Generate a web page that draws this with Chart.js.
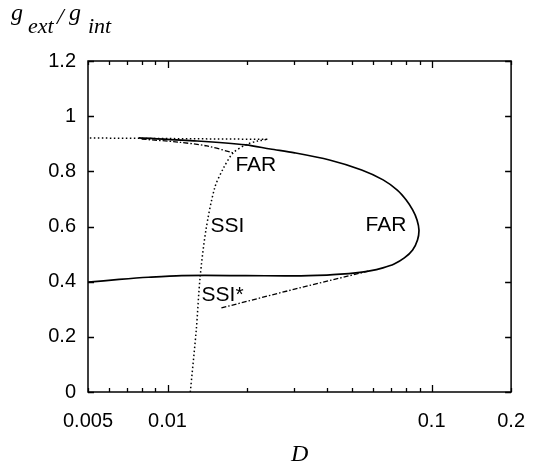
<!DOCTYPE html>
<html>
<head>
<meta charset="utf-8">
<script src="https://cdn.jsdelivr.net/npm/chart.js@4/dist/chart.umd.min.js"></script>
<style>
  html,body{margin:0;padding:0;background:#fff;}
  #wrap{width:542px;height:463px;position:relative;}
</style>
</head>
<body>
<div id="wrap"><canvas id="c" width="542" height="463"></canvas></div>
<script>
// ---- data ----
// FAR boundary (solid), traced from upper-left, round the nose at D~0.09, back to the left
const farD = [0.00778, 0.01295, 0.0198, 0.0245, 0.03031, 0.04105, 0.05435, 0.06553, 0.07413, 0.08014, 0.08477, 0.08807, 0.08957, 0.08844, 0.08477, 0.07885, 0.07214, 0.06541, 0.05833, 0.05155, 0.04519, 0.04012, 0.03031, 0.0198, 0.01131, 0.00847, 0.00656, 0.005];
const farG = [0.921, 0.910, 0.896, 0.881, 0.867, 0.841, 0.805, 0.769, 0.732, 0.696, 0.660, 0.624, 0.587, 0.551, 0.515, 0.486, 0.464, 0.450, 0.439, 0.432, 0.427, 0.424, 0.421, 0.422, 0.422, 0.416, 0.408, 0.398];
// SSI boundary (dotted), rising branch
const ssiD = [0.01220, 0.01285, 0.01329, 0.01398, 0.01509, 0.0163, 0.01774, 0.0198, 0.02194, 0.02388];
const ssiG = [0.000, 0.225, 0.417, 0.587, 0.740, 0.812, 0.867, 0.896, 0.910, 0.916];
// SSI boundary (dotted), upper flat branch
const ssiTopD = [0.02388, 0.005];
const ssiTopG = [0.916, 0.921];
// SSI* boundary (dash-dot), lower branch
const ssiStarD = [0.0160, 0.0303, 0.0575];
const ssiStarG = [0.305, 0.373, 0.438];
// SSI* boundary (dash-dot), upper branch
const ssiStarTopD = [0.00798, 0.01093, 0.0141, 0.01774];
const ssiStarTopG = [0.917, 0.906, 0.892, 0.867];
// axis ticks
const xTickValues = [0.005, 0.006, 0.007, 0.008, 0.009, 0.01, 0.02, 0.03, 0.04, 0.05, 0.06, 0.07, 0.08, 0.09, 0.1, 0.2];
const xTickLabels = [0.005, 0.01, 0.1, 0.2];
const xMajorTicks = [0.01, 0.1];
const yTickValues = [0, 0.2, 0.4, 0.6, 0.8, 1, 1.2];
// region labels (text, D, g)
const regionText = ['FAR', 'SSI', 'FAR', 'SSI*'];
const regionD = [0.0216, 0.01687, 0.0672, 0.01616];
const regionG = [0.823, 0.602, 0.606, 0.352];

const pts = (xs, ys) => xs.map((x, i) => ({x, y: ys[i]}));
const SANS = '"Liberation Sans", Arial, Helvetica, sans-serif';
const SERIF = '"Liberation Serif", "Times New Roman", serif';

const decor = {
  id: 'decor',
  afterDatasetsDraw(chart) {
    const ctx = chart.ctx, a = chart.chartArea;
    const xs = chart.scales.x, ys = chart.scales.y;
    ctx.save();
    ctx.strokeStyle = '#000';
    ctx.lineWidth = 1.3;
    // inward ticks
    ctx.beginPath();
    xTickValues.forEach(v => {
      const px = Math.round(xs.getPixelForValue(v)) + 0.5;
      const len = xMajorTicks.includes(v) ? 7 : 4;
      ctx.moveTo(px, a.bottom); ctx.lineTo(px, a.bottom - len);
      ctx.moveTo(px, a.top); ctx.lineTo(px, a.top + len);
    });
    yTickValues.forEach(v => {
      const py = Math.round(ys.getPixelForValue(v)) + 0.5;
      ctx.moveTo(a.left, py); ctx.lineTo(a.left + 6, py);
      ctx.moveTo(a.right, py); ctx.lineTo(a.right - 6, py);
    });
    ctx.stroke();
    // frame
    ctx.lineWidth = 1.5;
    ctx.strokeRect(a.left, a.top, a.right - a.left, a.bottom - a.top);
    // region labels
    ctx.fillStyle = '#000';
    ctx.font = '21px ' + SANS;
    ctx.textAlign = 'center';
    ctx.textBaseline = 'middle';
    regionText.forEach((t, i) => {
      ctx.fillText(t, xs.getPixelForValue(regionD[i]), ys.getPixelForValue(regionG[i]));
    });
    // x title
    ctx.font = 'italic 24px ' + SERIF;
    ctx.textAlign = 'center';
    ctx.textBaseline = 'alphabetic';
    ctx.fillText('D', (a.left + a.right) / 2, 461);
    // y title g_ext / g_int
    ctx.textAlign = 'left';
    ctx.font = 'italic 24px ' + SERIF;
    ctx.fillText('g', 11, 20);
    ctx.font = 'italic 22px ' + SERIF;
    ctx.fillText('ext', 28, 33);
    ctx.font = 'italic 24px ' + SERIF;
    ctx.fillText('/', 57, 24);
    ctx.fillText('g', 69, 20);
    ctx.font = 'italic 22px ' + SERIF;
    ctx.fillText('int', 88, 33);
    ctx.restore();
  }
};

new Chart(document.getElementById('c'), {
  type: 'scatter',
  data: {
    datasets: [
      {data: pts(farD, farG), showLine: true, borderColor: '#000', borderWidth: 1.7, pointRadius: 0, tension: 0.3, fill: false},
      {data: pts(ssiD, ssiG), showLine: true, borderColor: '#000', borderWidth: 1.5, borderDash: [1.5, 2.5], pointRadius: 0, tension: 0.3, fill: false},
      {data: pts(ssiTopD, ssiTopG), showLine: true, borderColor: '#000', borderWidth: 1.5, borderDash: [1.5, 2.5], pointRadius: 0, tension: 0, fill: false},
      {data: pts(ssiStarD, ssiStarG), showLine: true, borderColor: '#000', borderWidth: 1.3, borderDash: [5, 2, 1.5, 2], pointRadius: 0, tension: 0, fill: false},
      {data: pts(ssiStarTopD, ssiStarTopG), showLine: true, borderColor: '#000', borderWidth: 1.3, borderDash: [5, 2, 1.5, 2], pointRadius: 0, tension: 0.3, fill: false}
    ]
  },
  options: {
    responsive: false,
    animation: false,
    events: [],
    layout: {padding: {top: 61, right: 20, left: 0, bottom: 0}},
    plugins: {legend: {display: false}, tooltip: {enabled: false}},
    scales: {
      x: {
        type: 'logarithmic',
        min: 0.005, max: 0.2,
        afterBuildTicks: s => { s.ticks = xTickValues.map(v => ({value: v})); },
        afterFit: s => { s.height = 71; },
        grid: {display: false, drawTicks: false},
        border: {display: false},
        ticks: {
          autoSkip: false, maxRotation: 0, minRotation: 0, padding: 17,
          color: '#000', font: {family: SANS, size: 20},
          callback: v => xTickLabels.includes(v) ? String(v) : ''
        }
      },
      y: {
        type: 'linear',
        min: 0, max: 1.2,
        afterBuildTicks: s => { s.ticks = yTickValues.map(v => ({value: v})); },
        afterFit: s => { s.width = 88; },
        grid: {display: false, drawTicks: false},
        border: {display: false},
        ticks: {
          padding: 12, color: '#000', font: {family: SANS, size: 20},
          callback: v => String(v)
        }
      }
    }
  },
  plugins: [decor]
});
</script>
</body>
</html>
